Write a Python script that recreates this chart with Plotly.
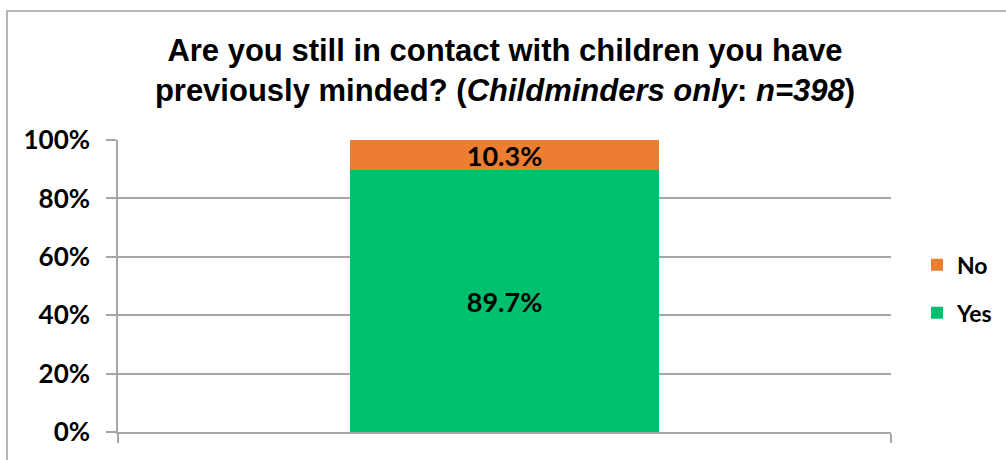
import plotly.graph_objects as go

categories = ["Contact"]
yes_values = [89.7]
no_values = [10.3]
tick_vals = [0, 20, 40, 60, 80, 100]
tick_text = ["0%", "20%", "40%", "60%", "80%", "100%"]

GREEN = "#00BF6F"
ORANGE = "#ED7D31"
GRID = "#A6A6A6"
LBL_FONT = dict(family="Lato", size=27, color="black", weight="bold")

W, H = 1006, 460

fig = go.Figure()
fig.add_trace(go.Bar(
    x=categories, y=yes_values, name="Yes", marker=dict(color=GREEN, line=dict(width=0)),
    text=[f"{v:.1f}%" for v in yes_values], textposition="inside", insidetextanchor="middle",
    constraintext="none", textfont=LBL_FONT, width=0.4, legendrank=2, legendgroup="yes",
))
fig.add_trace(go.Bar(
    x=categories, y=no_values, name="No", marker=dict(color=ORANGE, line=dict(width=0)),
    text=[f"{v:.1f}%" for v in no_values], textposition="inside", insidetextanchor="middle",
    constraintext="none", textfont=LBL_FONT, width=0.4, legendrank=1, legendgroup="no",
))

fig.update_layout(
    width=W, height=H,
    barmode="stack",
    paper_bgcolor="white", plot_bgcolor="white",
    margin=dict(l=118, r=115, t=140, b=28, autoexpand=False),
    title=dict(
        text="<b>Are you still in contact with children you have<br>previously minded? (<i>Childminders only</i>: <i>n=398</i>)</b>",
        font=dict(family="Liberation Sans", size=31, color="black"),
        x=505 / W, xanchor="center", xref="container",
        y=1 - 61 / H, yanchor="middle", yref="container",
    ),
    showlegend=True,
    legend=dict(
        x=917 / W, xanchor="left", xref="container", y=0.49, yanchor="middle",
        traceorder="grouped", tracegroupgap=15,
        font=dict(family="Lato", size=23, color="black", weight="bold"),
        itemwidth=30, bgcolor="rgba(0,0,0,0)",
    ),
    uniformtext=dict(mode=False),
    shapes=[dict(type="rect", xref="paper", yref="paper",
                 x0=-0.1436, x1=1.3, y0=-0.3, y1=1.4418,
                 line=dict(color="#A0A0A0", width=1.5), fillcolor="rgba(0,0,0,0)", layer="below")],
)

fig.update_yaxes(
    range=[0, 100], tickvals=tick_vals, ticktext=tick_text,
    showgrid=True, gridcolor=GRID, gridwidth=1.5,
    showline=True, linecolor=GRID, linewidth=1.5,
    ticks="outside", ticklen=10, tickcolor=GRID, tickwidth=1.5,
    ticklabelstandoff=11,
    tickfont=dict(family="Lato", size=26, color="black", weight="bold"),
    zeroline=False, fixedrange=True,
)
fig.update_xaxes(
    showticklabels=False, showline=True, linecolor=GRID, linewidth=1.5,
    ticks="outside", tickson="boundaries", ticklen=9, tickcolor=GRID, tickwidth=1.5,
    showgrid=False, fixedrange=True,
)

fig.write_html("out.html", config={"displayModeBar": False},
               post_script="document.body.style.margin='0';document.body.style.overflow='hidden';")
